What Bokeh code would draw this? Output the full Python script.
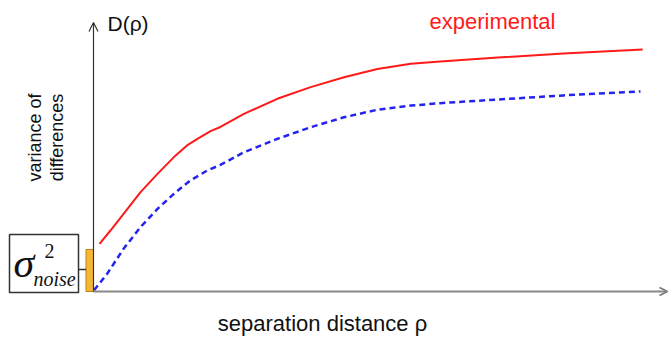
from bokeh.plotting import figure
from bokeh.models import Range1d, Label, Arrow, OpenHead
from bokeh.embed import file_html
from bokeh.resources import INLINE

# Separation distance (rho) and variance of differences D(rho)
rho_exp = [0.11, 0.31, 0.55, 0.86, 1.17, 1.47, 1.71, 1.90, 2.14, 2.32, 2.75, 3.36,
           3.97, 4.58, 5.19, 5.80, 6.34, 7.39, 8.59, 10.04]
d_exp = [1.96, 2.51, 3.19, 4.09, 4.84, 5.53, 6.01, 6.28, 6.60, 6.77, 7.31, 7.93,
         8.41, 8.82, 9.16, 9.37, 9.47, 9.63, 9.79, 9.96]

rho_model = [0.01, 0.25, 0.55, 0.86, 1.17, 1.47, 1.77, 2.08, 2.32, 2.75, 3.36, 3.97,
             4.58, 5.19, 5.80, 6.34, 7.39, 8.59, 10.0]
d_model = [0.05, 0.73, 1.76, 2.65, 3.40, 4.02, 4.57, 4.98, 5.21, 5.73, 6.28, 6.76,
           7.17, 7.48, 7.65, 7.75, 7.90, 8.07, 8.23]

# Nugget (noise variance) at rho = 0
noise_level = [1.73]

W, H = 668, 340
X0, Y0 = 93, 291          # pixel position of the origin
KX, KY = 54.7, 24.3       # pixels per data unit


def px(x):
    return (x - X0) / KX


def py(y):
    return (Y0 - y) / KY


p = figure(width=W, height=H, output_backend="svg", toolbar_location=None,
           x_range=Range1d(px(0), px(W)), y_range=Range1d(py(H), py(0)),
           min_border=0)
p.axis.visible = False
p.grid.visible = False
p.outline_line_color = None
p.background_fill_color = "white"
p.border_fill_color = "white"

# axes with arrow heads
p.add_layout(Arrow(end=OpenHead(size=9, line_color="#333333", line_width=1.2),
                   x_start=0, y_start=0, x_end=0, y_end=py(22),
                   line_color="#333333", line_width=1.2))
p.add_layout(Arrow(end=OpenHead(size=8, line_color="#777777", line_width=1.5),
                   x_start=0, y_start=0, x_end=px(667), y_end=0,
                   line_color="#888888", line_width=2))

# noise bar at the origin
p.quad(left=px(85.5), right=0, bottom=0, top=noise_level,
       fill_color="#F6B733", line_color="#B98416", line_width=1)

# label box and connector
p.quad(left=[px(9)], right=[px(78)], bottom=[py(292)], top=[py(234)],
       fill_color="white", line_color="#333333", line_width=1.5)
p.segment(x0=[px(78)], y0=[py(269)], x1=[px(85.5)], y1=[py(269)],
          line_color="#333333", line_width=1.5)

# curves
p.line(rho_exp, d_exp, line_color="#FF1A1A", line_width=2)
p.line(rho_model, d_model, line_color="#2424F0", line_width=2.5, line_dash="6 4")

sans = "Liberation Sans"
serif = "Liberation Serif"

p.add_layout(Label(x=px(107), y=py(23), text="D(ρ)", text_font=sans,
                   text_font_size="21px", text_color="#111111",
                   text_baseline="middle"))
p.add_layout(Label(x=px(492), y=py(21), text="experimental", text_font=sans,
                   text_font_size="22px", text_color="#FF1A1A",
                   text_align="center", text_baseline="middle"))
p.add_layout(Label(x=px(322), y=py(323), text="separation distance ρ",
                   text_font=sans, text_font_size="22px", text_color="#111111",
                   text_align="center", text_baseline="middle"))
p.add_layout(Label(x=px(34), y=py(137), text="variance of", text_font=sans,
                   text_font_size="18px", text_color="#111111", angle=90,
                   angle_units="deg", text_align="center", text_baseline="middle"))
p.add_layout(Label(x=px(56), y=py(137), text="differences", text_font=sans,
                   text_font_size="18px", text_color="#111111", angle=90,
                   angle_units="deg", text_align="center", text_baseline="middle"))

# sigma^2_noise
p.add_layout(Label(x=px(13), y=py(262), text="σ", text_font=serif,
                   text_font_style="italic", text_font_size="42px",
                   text_color="#111111", text_baseline="middle"))
p.add_layout(Label(x=px(44), y=py(250), text="2", text_font=serif,
                   text_font_size="20px", text_color="#111111",
                   text_baseline="middle"))
p.add_layout(Label(x=px(33), y=py(278), text="noise", text_font=serif,
                   text_font_style="italic", text_font_size="20px",
                   text_color="#111111", text_baseline="middle"))

open("out.html", "w").write(file_html(p, INLINE))
